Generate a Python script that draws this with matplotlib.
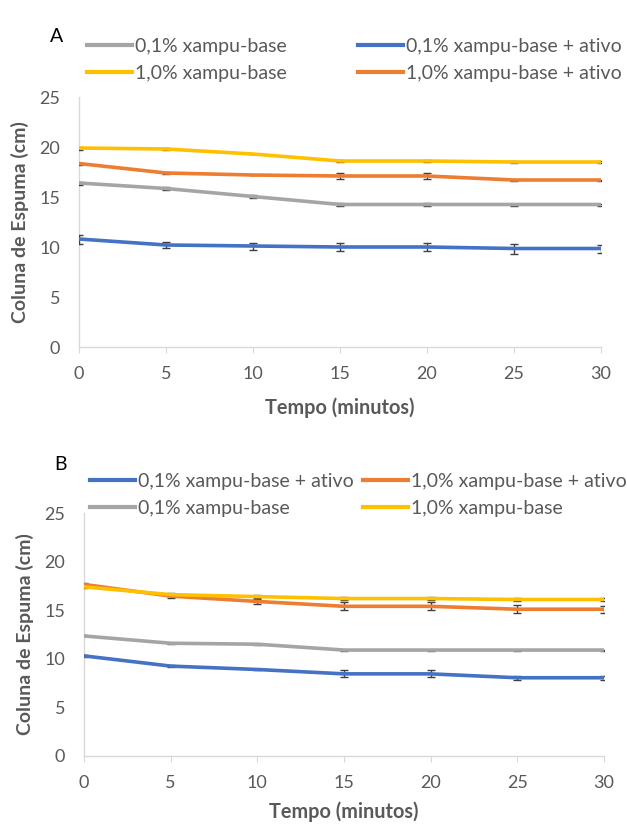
import matplotlib
matplotlib.use('Agg')
import matplotlib.pyplot as plt
from matplotlib.lines import Line2D

plt.rcParams['font.family'] = ['Lato', 'DejaVu Sans']

tempo = [0, 5, 10, 15, 20, 25, 30]

# painel A
a_base01 = [16.4, 15.85, 15.05, 14.25, 14.25, 14.25, 14.25]
a_base01_err = [0.15, 0.15, 0.15, 0.15, 0.15, 0.1, 0.1]
a_ativo01 = [10.8, 10.2, 10.1, 10.0, 10.0, 9.85, 9.85]
a_ativo01_err = [0.45, 0.3, 0.35, 0.4, 0.4, 0.5, 0.4]
a_base10 = [19.9, 19.8, 19.3, 18.6, 18.6, 18.5, 18.5]
a_base10_err = [0.15, 0.1, 0.0, 0.1, 0.1, 0.1, 0.1]
a_ativo10 = [18.35, 17.4, 17.2, 17.1, 17.1, 16.7, 16.7]
a_ativo10_err = [0.1, 0.1, 0.0, 0.3, 0.3, 0.05, 0.05]

# painel B
b_ativo01 = [10.3, 9.25, 8.9, 8.45, 8.45, 8.05, 8.05]
b_ativo01_err = [0.1, 0.1, 0.1, 0.35, 0.35, 0.2, 0.2]
b_ativo10 = [17.65, 16.45, 15.9, 15.4, 15.4, 15.1, 15.1]
b_ativo10_err = [0.15, 0.2, 0.3, 0.4, 0.4, 0.4, 0.35]
b_base01 = [12.35, 11.6, 11.5, 10.9, 10.9, 10.9, 10.9]
b_base01_err = [0.05, 0.05, 0.05, 0.05, 0.05, 0.05, 0.05]
b_base10 = [17.4, 16.6, 16.4, 16.2, 16.2, 16.1, 16.1]
b_base10_err = [0.1, 0.15, 0.15, 0.15, 0.15, 0.2, 0.15]

cinza = '#A5A5A5'
azul = '#4472C4'
amarelo = '#FFC000'
laranja = '#ED7D31'
txt = '#595959'

W, H = 627, 825


def serie(ax, y, err, cor):
    ax.errorbar(tempo, y, yerr=err, color=cor, lw=2.6, ecolor='#404040',
                elinewidth=1, capsize=3, capthick=1, zorder=3)
    return Line2D([], [], color=cor, lw=3)


def estilo(ax, xpad):
    ax.set_xlim(0, 30)
    ax.set_ylim(0, 25)
    ax.set_xticks(tempo)
    ax.set_yticks([0, 5, 10, 15, 20, 25])
    for s in ['top', 'right']:
        ax.spines[s].set_visible(False)
    for s in ['left', 'bottom']:
        ax.spines[s].set_color('#D9D9D9')
        ax.spines[s].set_linewidth(1)
    ax.tick_params(axis='x', colors='#D9D9D9', labelcolor=txt, labelsize=13,
                   length=4, direction='out', pad=9.5)
    ax.tick_params(axis='y', length=0, labelcolor=txt, labelsize=13, pad=13.5)
    ax.set_xlabel('Tempo (minutos)', fontsize=14.3, fontweight='bold', color=txt, labelpad=xpad)
    ax.set_ylabel('Coluna de Espuma (cm)', fontsize=14, fontweight='bold', color=txt, labelpad=7.5)


def legenda(handles, labels, x_px, y_px):
    fig.legend(handles, labels, loc='center left',
               bbox_to_anchor=(x_px / W, 1 - y_px / H),
               frameon=False, fontsize=14, labelcolor=txt, handlelength=2.3,
               handletextpad=0.15, labelspacing=0.5, borderpad=0, borderaxespad=0)


fig = plt.figure(figsize=(W / 100, H / 100), dpi=100)
axA = fig.add_axes([79 / W, 1 - 347 / H, 522 / W, 250 / H])
axB = fig.add_axes([84 / W, 1 - 756 / H, 520 / W, 243 / H])

# A
g1 = serie(axA, a_base01, a_base01_err, cinza)
g2 = serie(axA, a_base10, a_base10_err, amarelo)
g3 = serie(axA, a_ativo01, a_ativo01_err, azul)
g4 = serie(axA, a_ativo10, a_ativo10_err, laranja)
estilo(axA, 11.5)
legenda([g1, g2], ['0,1% xampu-base', '1,0% xampu-base'], 87, 60)
legenda([g3, g4], ['0,1% xampu-base + ativo', '1,0% xampu-base + ativo'], 358, 60)
fig.text(57 / W, 1 - 37 / H, 'A', fontsize=14, color='black', ha='center', va='center')

# B
h1 = serie(axB, b_ativo01, b_ativo01_err, azul)
h2 = serie(axB, b_base01, b_base01_err, cinza)
h3 = serie(axB, b_ativo10, b_ativo10_err, laranja)
h4 = serie(axB, b_base10, b_base10_err, amarelo)
estilo(axB, 7.5)
legenda([h1, h2], ['0,1% xampu-base + ativo', '0,1% xampu-base'], 90, 495)
legenda([h3, h4], ['1,0% xampu-base + ativo', '1,0% xampu-base'], 363, 495)
fig.text(60 / W, 1 - 465 / H, 'B', fontsize=14, color='black', ha='center', va='center')

fig.savefig('out.png', dpi=100)
